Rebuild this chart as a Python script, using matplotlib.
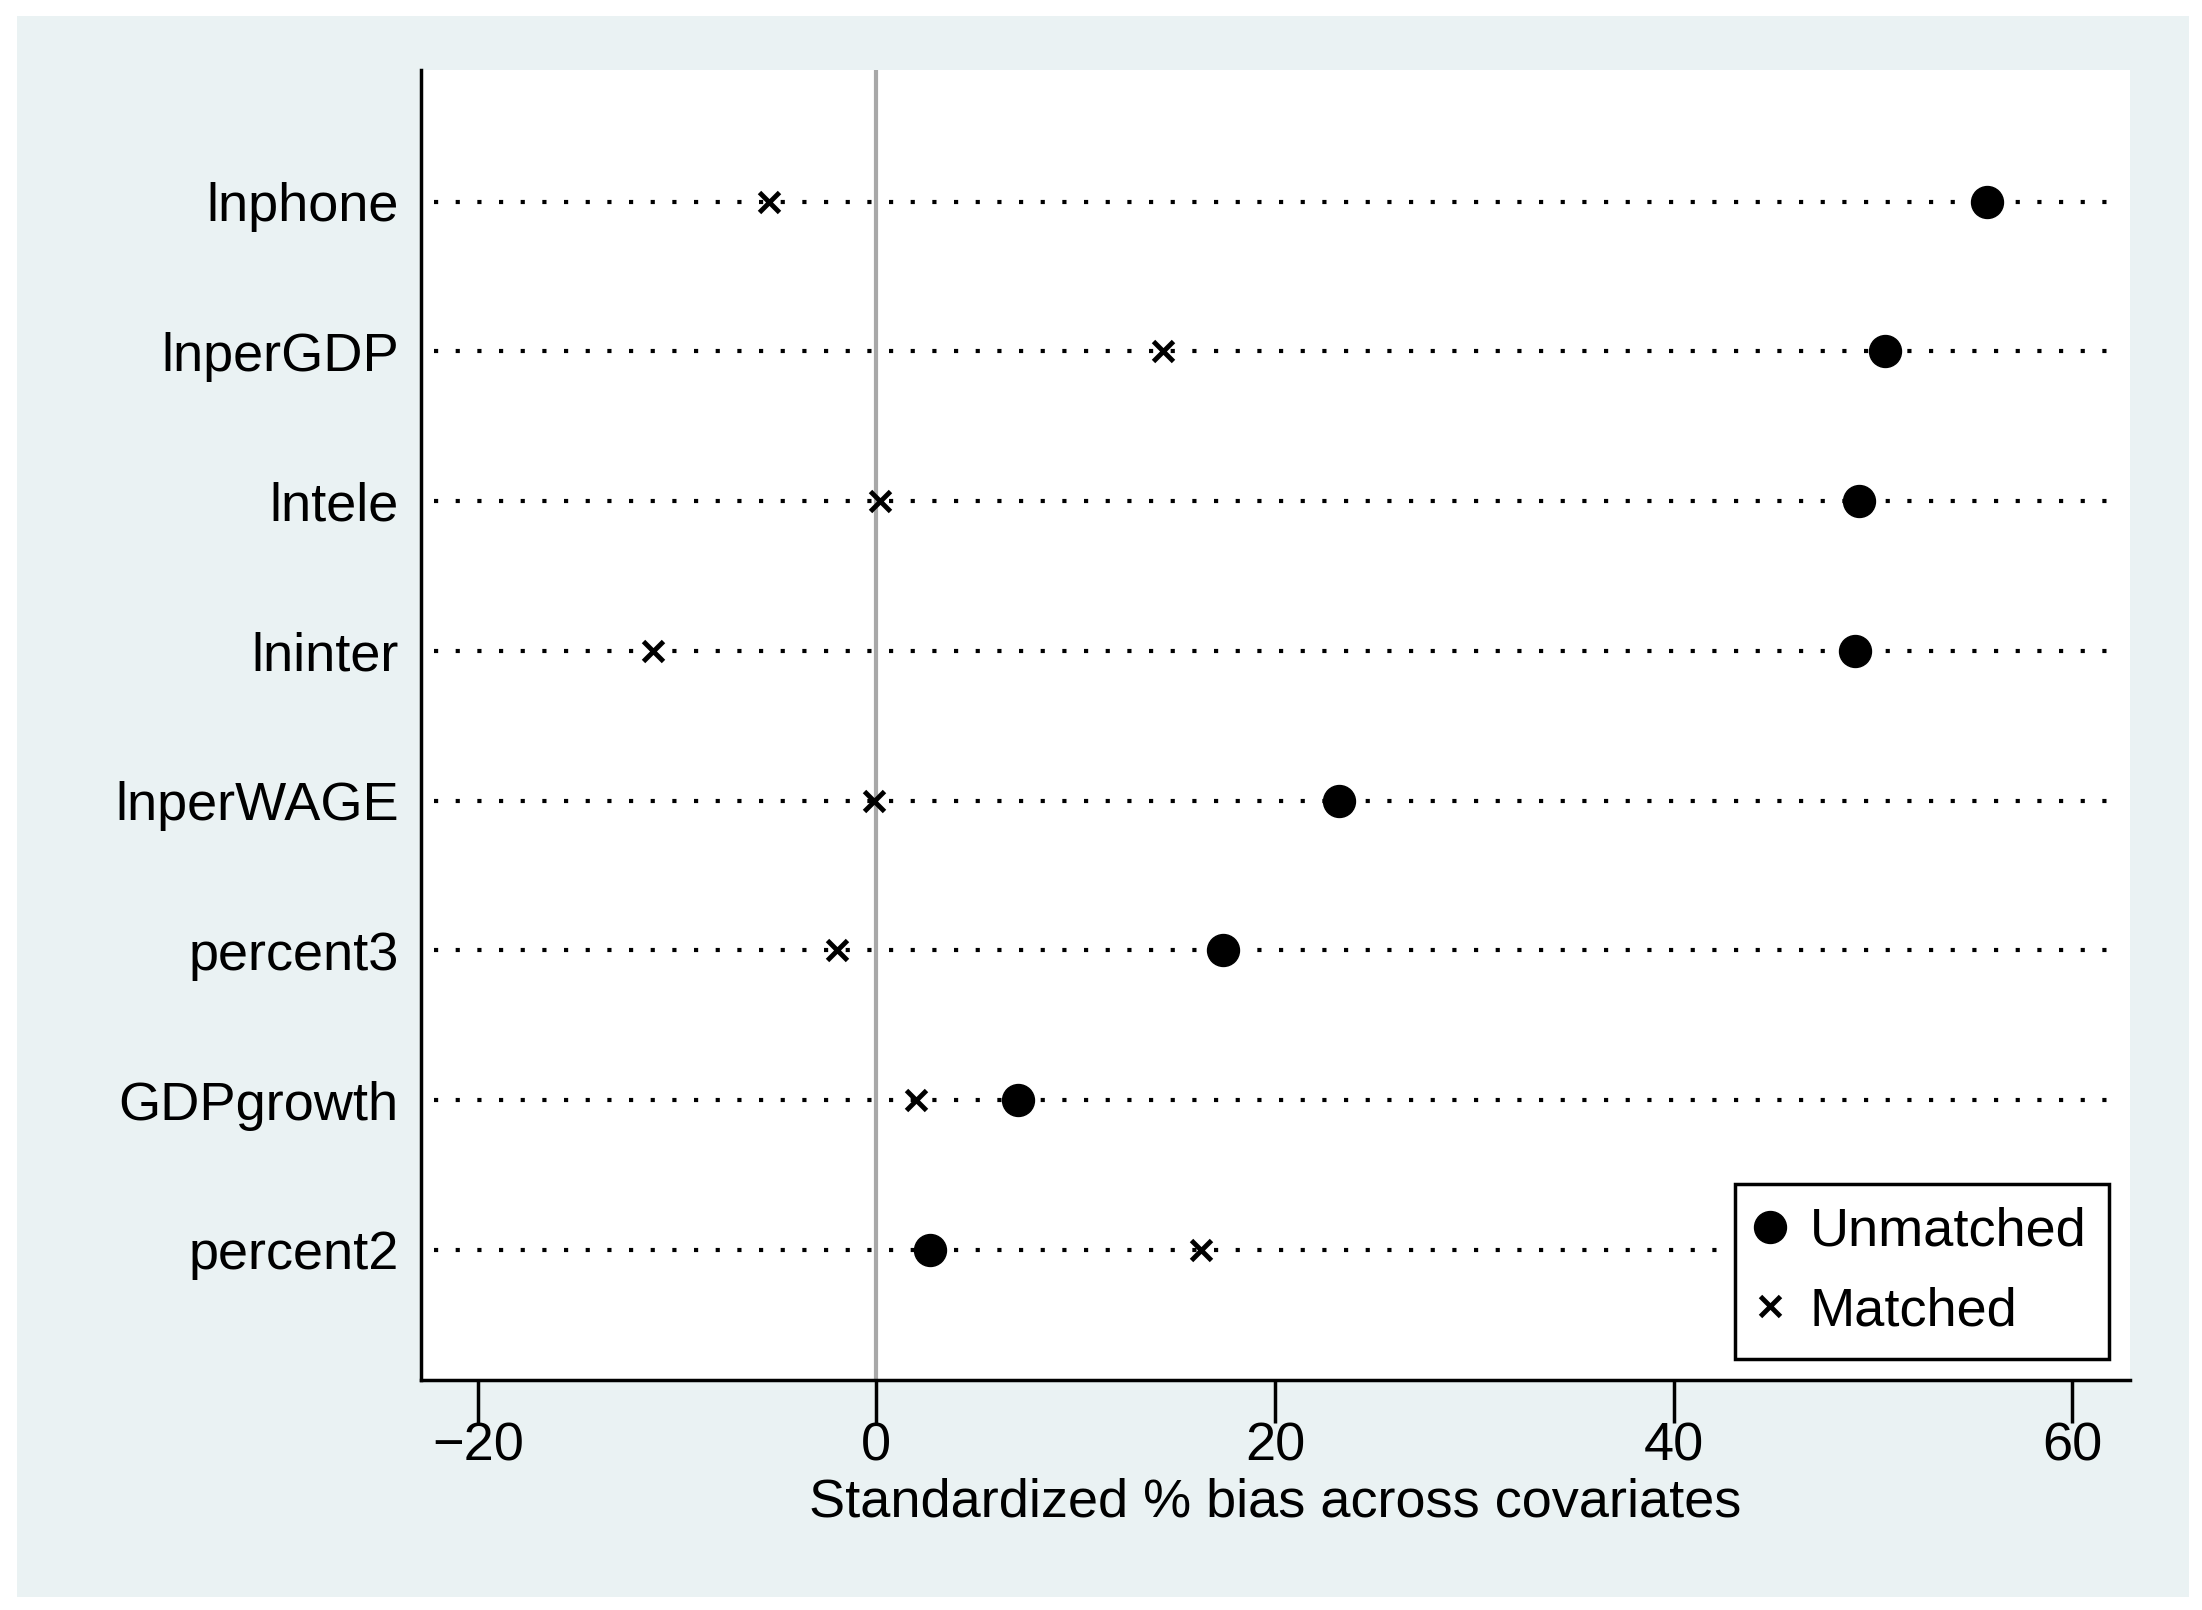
import matplotlib
matplotlib.use("Agg")
import matplotlib.pyplot as plt
from matplotlib.patches import Rectangle
from matplotlib.lines import Line2D

plt.rcParams['font.family'] = ['Liberation Sans', 'DejaVu Sans']

covariates = ["lnphone", "lnperGDP", "lntele", "lninter", "lnperWAGE",
              "percent3", "GDPgrowth", "percent2"]
unmatched = [55.7, 50.6, 49.3, 49.1, 23.2, 17.4, 7.1, 2.7]
matched = [-5.4, 14.4, 0.2, -11.2, -0.1, -2.0, 2.0, 16.3]
xticks = [-20, 0, 20, 40, 60]
xlabel = "Standardized % bias across covariates"

W, H = 2202, 1610
fig = plt.figure(figsize=(W / 100, H / 100), dpi=100, facecolor="white")
bg = "#EAF2F3"
fig.patches.append(Rectangle((17 / W, 13 / H), (2189 - 17) / W, (1597 - 16) / H,
                             transform=fig.transFigure, facecolor=bg,
                             edgecolor="none", zorder=-10))

ax = fig.add_axes([421 / W, 1 - 1380 / H, (2130 - 421) / W, (1380 - 70) / H])
ax.set_facecolor("white")

ypos = list(range(1, len(covariates) + 1))

ax.axvline(0, color="#A8A8A8", lw=3, zorder=1)
for y in ypos:
    ax.plot([-22.2, 62.4], [y, y], color="black", lw=3,
            linestyle=(0, (1, 4.2)), zorder=2)

ax.plot(unmatched, ypos, linestyle="none", marker="o", markersize=23,
        color="black", zorder=3, label="Unmatched")
ax.plot(matched, ypos, linestyle="none", marker="x", markersize=14,
        markeredgewidth=3.5, color="black", zorder=3, label="Matched")

ax.set_xlim(-22.85, 62.9)
ax.set_ylim(8.87, 0.12)

ax.set_yticks(ypos)
ax.set_yticklabels(covariates, fontsize=39)
ax.tick_params(axis="y", length=0, pad=16)
ax.set_xticks(xticks)
ax.set_xticklabels([f"{t}".replace("-", "\u2212") for t in xticks], fontsize=39)
ax.tick_params(axis="x", length=31, width=2.5, pad=-1)
ax.set_xlabel(xlabel, fontsize=39, labelpad=4)

for s in ["top", "right"]:
    ax.spines[s].set_visible(False)
for s in ["left", "bottom"]:
    ax.spines[s].set_linewidth(2.5)

handles = [Line2D([], [], linestyle="none", marker="o", markersize=23, color="black"),
           Line2D([], [], linestyle="none", marker="x", markersize=14,
                  markeredgewidth=3.5, color="black")]
leg = ax.legend(handles, ["Unmatched", "Matched"], loc="lower right",
                bbox_to_anchor=((2109 - 421) / (2130 - 421), (1380 - 1359) / (1380 - 70)),
                fontsize=39, frameon=True, fancybox=False, framealpha=1,
                edgecolor="black", handletextpad=0.5, borderpad=0.42,
                labelspacing=0.55, handlelength=0.45, borderaxespad=0)
leg.get_frame().set_linewidth(2.5)

fig.savefig("out.png", dpi=100, facecolor="white")
